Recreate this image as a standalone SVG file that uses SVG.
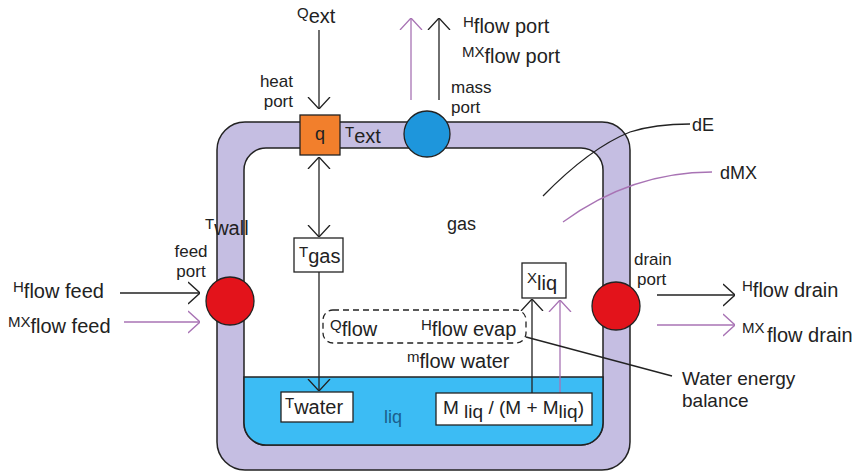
<svg xmlns="http://www.w3.org/2000/svg" width="860" height="473" viewBox="0 0 860 473">
<style>
text{font-family:"Liberation Sans",Arial,sans-serif;fill:#222;font-size:18px}
.pre{font-size:15px}
.sub{font-size:20px}
.two{font-size:17px}
.ln{fill:none;stroke:#222;stroke-width:1.3}
.lp{fill:none;stroke:#a873b4;stroke-width:1.3}
.box{fill:#fff;stroke:#222;stroke-width:1.3}
</style>
<defs>
<marker id="ak" viewBox="0 0 12 24" refX="12" refY="12" markerWidth="12" markerHeight="24" markerUnits="userSpaceOnUse" orient="auto-start-reverse"><path d="M0,1 L12,12 L0,23" fill="none" stroke="#222" stroke-width="1.3"/></marker>
<marker id="ap" viewBox="0 0 12 24" refX="12" refY="12" markerWidth="12" markerHeight="24" markerUnits="userSpaceOnUse" orient="auto-start-reverse"><path d="M0,1 L12,12 L0,23" fill="none" stroke="#a873b4" stroke-width="1.3"/></marker>
</defs>
<rect width="860" height="473" fill="#fff"/>

<g id="vessel">
<rect x="217" y="122" width="413" height="348" rx="28" fill="#c5bee2" stroke="#222" stroke-width="1.5"/>
<rect x="244" y="148" width="359" height="297" rx="22" fill="#fff" stroke="#222" stroke-width="1.5"/>
<path d="M244,377 H603 V423 A22,22 0 0 1 581,445 H266 A22,22 0 0 1 244,423 Z" fill="#3cbcf4" stroke="#222" stroke-width="1.5"/>
<text x="447" y="230">gas</text>
<text x="384" y="423" style="fill:#1b5e8c">liq</text>
<text x="205" y="235"><tspan class="pre" dy="-6">T</tspan><tspan class="sub" dy="6">wall</tspan></text>
</g>

<g id="connectors">
<line class="ln" x1="319" y1="30" x2="319" y2="109" marker-end="url(#ak)"/>
<line class="ln" x1="319" y1="157" x2="319" y2="237" marker-start="url(#ak)" marker-end="url(#ak)"/>
<line class="ln" x1="319" y1="272" x2="319" y2="391" marker-end="url(#ak)"/>
<line class="lp" x1="411" y1="100" x2="411" y2="18" marker-end="url(#ap)"/>
<line class="ln" x1="439" y1="100" x2="439" y2="18" marker-end="url(#ak)"/>
<line class="ln" x1="120" y1="293" x2="200" y2="293" marker-end="url(#ak)"/>
<line class="lp" x1="124" y1="322" x2="200" y2="322" marker-end="url(#ap)"/>
<line class="ln" x1="657" y1="295" x2="735" y2="295" marker-end="url(#ak)"/>
<line class="lp" x1="657" y1="325" x2="735" y2="325" marker-end="url(#ap)"/>
<line class="ln" x1="532" y1="393" x2="532" y2="299" marker-end="url(#ak)"/>
<line class="lp" x1="560" y1="393" x2="560" y2="300" marker-end="url(#ap)"/>
<path class="ln" d="M543,196 Q590,148 630,132 Q655,124 690,124"/>
<path class="lp" d="M563,222 C600,195 650,172 712,172"/>
<line class="ln" x1="526" y1="337" x2="672" y2="376"/>
</g>

<g id="qext"><text x="297" y="23"><tspan class="pre" dy="-5">Q</tspan><tspan class="sub" dy="5">ext</tspan></text></g>

<g id="heatport">
<rect x="300" y="115" width="40" height="40" fill="#f27f2c" stroke="#222" stroke-width="1.3"/>
<text x="320" y="140" text-anchor="middle" style="font-size:18px">q</text>
<text class="two" x="293" y="87" text-anchor="end">heat</text>
<text class="two" x="293" y="107" text-anchor="end">port</text>
<text x="345" y="143"><tspan class="pre" dy="-6">T</tspan><tspan class="sub" dy="6">ext</tspan></text>
</g>

<g id="massport">
<circle cx="427" cy="134" r="23" fill="#1e96dc" stroke="#222" stroke-width="1.3"/>
<text class="two" x="451" y="93">mass</text>
<text class="two" x="451" y="113">port</text>
<text x="463" y="33"><tspan class="pre" dy="-6">H</tspan><tspan class="sub" dy="6">flow port</tspan></text>
<text x="462" y="63"><tspan class="pre" dy="-6">MX</tspan><tspan class="sub" dy="6">flow port</tspan></text>
</g>

<g id="dE"><text x="692" y="131">dE</text></g>
<g id="dMX"><text x="720" y="179">dMX</text></g>

<g id="feedport">
<circle cx="230" cy="301" r="24" fill="#e3131b" stroke="#222" stroke-width="1.3"/>
<text class="two" x="191" y="257" text-anchor="middle">feed</text>
<text class="two" x="191" y="277" text-anchor="middle">port</text>
<text x="13" y="298"><tspan class="pre" dy="-6">H</tspan><tspan class="sub" dy="6">flow feed</tspan></text>
<text x="8" y="333"><tspan class="pre" dy="-6">MX</tspan><tspan class="sub" dy="6">flow feed</tspan></text>
</g>

<g id="drainport">
<circle cx="616" cy="306" r="24" fill="#e3131b" stroke="#222" stroke-width="1.3"/>
<text class="two" x="634" y="265">drain</text>
<text class="two" x="637" y="285">port</text>
<text x="742" y="297"><tspan class="pre" dy="-6">H</tspan><tspan class="sub" dy="6">flow drain</tspan></text>
<text x="742" y="342"><tspan class="pre" dy="-9">MX</tspan><tspan class="sub" x="767" dy="9">flow drain</tspan></text>
</g>

<g id="Tgas">
<rect class="box" x="294" y="238" width="49" height="34"/>
<text x="299" y="263"><tspan class="pre" dy="-6">T</tspan><tspan class="sub" dy="6">gas</tspan></text>
</g>

<g id="Xliq">
<rect class="box" x="522" y="263" width="44" height="35"/>
<text x="527" y="290"><tspan class="pre" dy="-7">X</tspan><tspan class="sub" dy="7">liq</tspan></text>
</g>

<g id="energybalance">
<rect x="323" y="310" width="203" height="33" rx="10" fill="none" stroke="#222" stroke-width="1.3" stroke-dasharray="6 4"/>
<text x="330" y="336"><tspan class="pre" dy="-6">Q</tspan><tspan class="sub" dy="6">flow</tspan></text>
<text x="421" y="336"><tspan class="pre" dy="-6">H</tspan><tspan class="sub" dy="6">flow evap</tspan></text>
</g>

<g id="mflow"><text x="407" y="368"><tspan class="pre" dy="-6">m</tspan><tspan class="sub" dy="6">flow water</tspan></text></g>

<g id="Twater">
<rect class="box" x="281" y="392" width="72" height="30"/>
<text x="285" y="414"><tspan class="pre" dy="-6">T</tspan><tspan class="sub" dy="6">water</tspan></text>
</g>

<g id="Mliq">
<rect class="box" x="436" y="393" width="156" height="32"/>
<text x="443" y="414" style="font-size:19px">M <tspan dy="4">liq</tspan><tspan dy="-4"> / (M + M</tspan><tspan dy="4">liq</tspan><tspan dy="-4">)</tspan></text>
</g>

<g id="waterenergylabel">
<text x="682" y="385" style="font-size:19px">Water energy</text>
<text x="682" y="407" style="font-size:19px">balance</text>
</g>
</svg>
